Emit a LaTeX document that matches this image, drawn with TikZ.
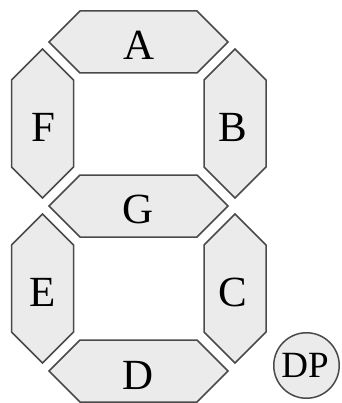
\documentclass[tikz,border=0pt]{standalone}
\usepackage{fontspec}
\setmainfont{Liberation Serif}
\definecolor{segfill}{HTML}{EBEBEB}
\definecolor{segline}{HTML}{4A4A4A}
\tikzset{
  x=1pt, y=-1pt,
  segstyle/.style={fill=segfill, draw=segline, line width=1.5pt, line join=miter},
  lbl/.style={inner sep=0pt, font=\fontsize{43}{43}\selectfont, text=black},
  hseg/.pic={\path[segstyle] (-89.5,0) -- (-58.5,31) -- (58.5,31) -- (89.5,0) -- (58.5,-31) -- (-58.5,-31) -- cycle;},
  vseg/.pic={\path[segstyle] (0,-74.5) -- (31,-43.5) -- (31,43.5) -- (0,74.5) -- (-31,43.5) -- (-31,-43.5) -- cycle;}
}
\begin{document}
\begin{tikzpicture}
\useasboundingbox (0,0) rectangle (341,403);
\pic at (138.5,42) {hseg};
\pic at (138.5,206) {hseg};
\pic at (138.5,371) {hseg};
\pic at (42.5,123.5) {vseg};
\pic at (235,123.5) {vseg};
\pic at (42.5,288.5) {vseg};
\pic at (235,288.5) {vseg};
\node[lbl] (A) at (139.5,45) {A};
\node[lbl] (G) at (138.5,209) {G};
\node[lbl] (D) at (138.5,375) {D};
\node[lbl] (F) at (43,127) {F};
\node[lbl] (B) at (233,127) {B};
\node[lbl] (E) at (43,292) {E};
\node[lbl] (C) at (233,292) {C};
\node[circle, draw=segline, line width=1.5pt, fill=segfill, minimum size=65.5pt, inner sep=0pt] (DPc) at (306.5,365.5) {};
\node[inner sep=0pt, text=black, font=\fontsize{37}{37}\selectfont] (DP) at (305,365.5) {DP};
\end{tikzpicture}
\end{document}
